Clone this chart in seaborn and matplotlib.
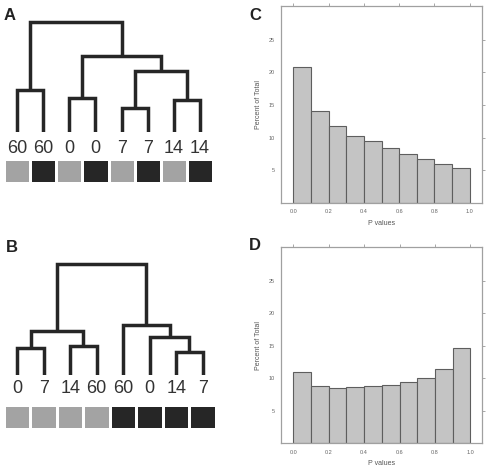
import numpy as np
import pandas as pd
import matplotlib
matplotlib.use("Agg")
import matplotlib.pyplot as plt
from matplotlib.colors import ListedColormap
import seaborn as sns

# data
leaves_a = ["60", "60", "0", "0", "7", "7", "14", "14"]
groups_a = [0, 1, 0, 1, 0, 1, 0, 1]
# (child1, child2, height) - ids >= 8 are merged clusters
links_a = [(4, 5, 0.234), (6, 7, 0.317), (2, 3, 0.34), (0, 1, 0.417),
           (8, 9, 0.61), (10, 12, 0.757), (11, 13, 1.094)]

leaves_b = ["0", "7", "14", "60", "60", "0", "14", "7"]
groups_b = [0, 0, 0, 0, 1, 1, 1, 1]
links_b = [(6, 7, 0.23), (0, 1, 0.27), (2, 3, 0.29), (5, 8, 0.38),
           (9, 10, 0.44), (4, 11, 0.50), (12, 13, 1.11)]

bin_edges = [0.0, 0.1, 0.2, 0.3, 0.4, 0.5, 0.6, 0.7, 0.8, 0.9, 1.0]
pct_c = [20.8, 14.1, 11.7, 10.3, 9.4, 8.4, 7.5, 6.7, 6.0, 5.4]
pct_d = [11.0, 8.8, 8.5, 8.6, 8.8, 9.0, 9.4, 10.0, 11.4, 14.6]

sns.set_style("white")
plt.rcParams["font.family"] = ["Liberation Sans", "DejaVu Sans"]

W, H = 489, 467
fig = plt.figure(figsize=(W / 100, H / 100), dpi=100)


def px_axes(x0, y0, x1, y1):
    # axes from pixel box (top-left origin)
    return fig.add_axes([x0 / W, 1 - y1 / H, (x1 - x0) / W, (y1 - y0) / H])


def draw_dendro(ax, leaves, links, label_y):
    n = len(leaves)
    xs = {i: float(i) for i in range(n)}
    ys = {i: 0.0 for i in range(n)}
    for k, (a, b, h) in enumerate(links):
        ax.plot([xs[a], xs[a], xs[b], xs[b]], [ys[a], h, h, ys[b]],
                color="#262626", lw=2.5, solid_joinstyle="miter",
                solid_capstyle="butt")
        xs[n + k] = (xs[a] + xs[b]) / 2
        ys[n + k] = h
    for i, lab in enumerate(leaves):
        ax.text(i, label_y, lab, ha="center", va="center", fontsize=13,
                color="#333333", clip_on=False)
    ax.set_xlim(-0.5, n - 0.5)
    ax.set_ylim(0, 1.2)
    ax.axis("off")


def draw_strip(ax, groups):
    sns.heatmap(pd.DataFrame([groups]), ax=ax, cbar=False,
                cmap=ListedColormap(["#a3a3a3", "#262626"]), vmin=0, vmax=1,
                linewidths=1.0, linecolor="white", xticklabels=False,
                yticklabels=False)


def draw_hist(ax, values):
    mids = [(bin_edges[i] + bin_edges[i + 1]) / 2 for i in range(len(values))]
    sns.histplot(x=mids, weights=values, bins=bin_edges, ax=ax,
                 color="#c4c4c4", edgecolor="#5e5e5e", linewidth=0.8, alpha=1)
    ax.set_xlim(-0.07, 1.068)
    ax.set_ylim(0, 30.2)
    ax.set_xticks([0, 0.2, 0.4, 0.6, 0.8, 1.0])
    ax.set_xticklabels(["0.0", "0.2", "0.4", "0.6", "0.8", "1.0"])
    ax.set_yticks([5, 10, 15, 20, 25])
    ax.tick_params(top=True, right=True, direction="out", length=2.5,
                   width=0.6, color="#999999", labelsize=4,
                   labelcolor="#666666", pad=2)
    for s in ax.spines.values():
        s.set_color("#a0a0a0")
        s.set_linewidth(0.9)
    ax.set_xlabel("P values", fontsize=5, color="#555555", labelpad=4)
    ax.set_ylabel("Percent of Total", fontsize=5, color="#555555", labelpad=5)


ax_a = px_axes(4, 11.7, 213, 131.7)
draw_dendro(ax_a, leaves_a, links_a, -0.17)
draw_strip(px_axes(4, 159, 213, 183), groups_a)

ax_b = px_axes(4, 255, 216, 375)
draw_dendro(ax_b, leaves_b, links_b, -0.135)
draw_strip(px_axes(4, 405, 216, 429), groups_b)

draw_hist(px_axes(281, 6, 481.7, 202.7), pct_c)
draw_hist(px_axes(281, 246.7, 482.3, 443.3), pct_d)

for lab, x, y in [("A", 4, 16), ("B", 6, 248), ("C", 249, 15), ("D", 249, 246)]:
    fig.text(x / W, 1 - y / H, lab, fontsize=12, fontweight="bold",
             color="#222222", va="center", ha="left")

fig.savefig("out.png", dpi=100)
